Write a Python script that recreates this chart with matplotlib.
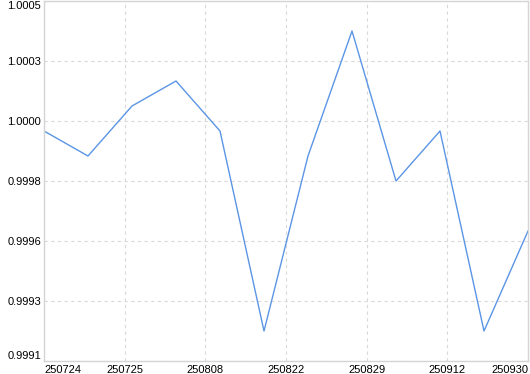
import numpy as np
import matplotlib
matplotlib.use("Agg")
import matplotlib.pyplot as plt

# values
values = [1.0000, 0.9999, 1.0001, 1.0002, 1.0000, 0.9992,
          0.9999, 1.0004, 0.9998, 1.0000, 0.9992, 0.9996]
tick_labels = ["250724", "250725", "250808", "250822", "250829", "250912", "250930"]

plt.rcParams['font.family'] = ['Liberation Sans', 'DejaVu Sans']

fig = plt.figure(figsize=(5.3, 3.74), dpi=100)
ax = fig.add_axes([44 / 530, 1 - 361 / 374, 484 / 530, 360 / 374])

x = np.arange(len(values))
ax.plot(x, values, color="#5b95e5", lw=1.0)

# range with 10% margin, 6 equal tick intervals
lo, hi = min(values), max(values)
pad = (hi - lo) * 0.1
ymin, ymax = lo - pad, hi + pad
ax.set_ylim(ymin, ymax)
ax.set_xlim(0, len(values) - 1)

yt = np.linspace(ymin, ymax, 7)
ax.set_yticks(yt)
ax.set_yticklabels([f"{v:.4f}" for v in yt])
xt = np.linspace(0, len(values) - 1, len(tick_labels))
ax.set_xticks(xt)
ax.set_xticklabels(tick_labels)

ax.grid(True, color="#d9d9d9", linestyle=(0, (3, 3)), linewidth=0.8)
ax.set_axisbelow(True)
for s in ax.spines.values():
    s.set_color("#d4d4d4")
    s.set_linewidth(1.0)

ax.tick_params(length=0, labelsize=8, colors="black", pad=2)
ax.tick_params(axis="x", pad=3)

# clamp edge labels inside the plot area
xl = ax.get_xticklabels()
xl[0].set_ha("left")
xl[-1].set_ha("right")
yl = ax.get_yticklabels()
yl[0].set_va("bottom")
yl[-1].set_va("top")

fig.savefig("out.png", dpi=100)
